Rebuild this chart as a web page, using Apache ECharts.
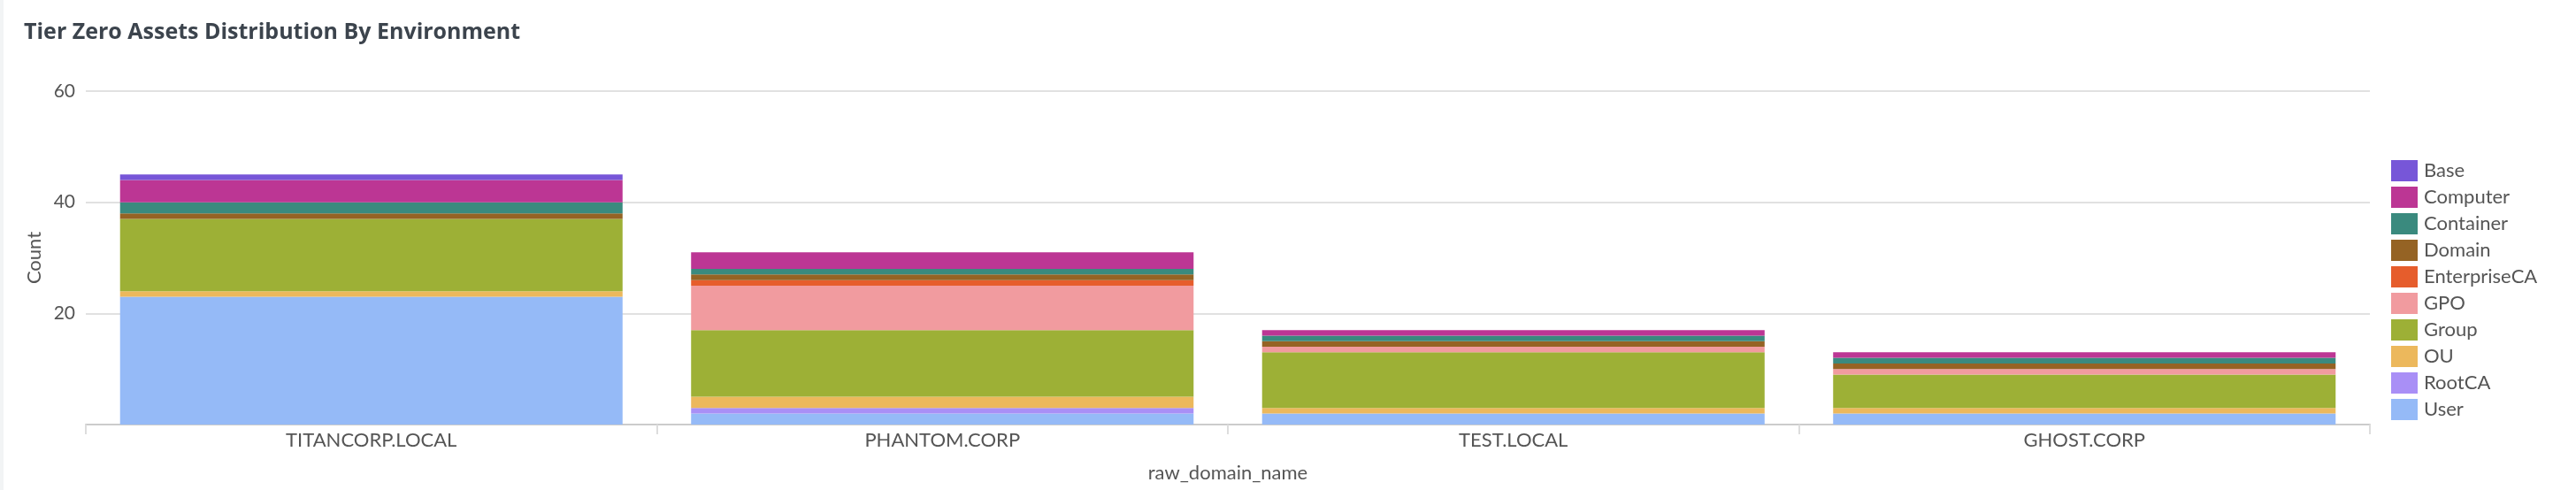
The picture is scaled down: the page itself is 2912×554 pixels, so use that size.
<!DOCTYPE html>
<html lang="en">
<head>
    <meta charset="UTF-8">
    <title>Tier Zero Assets Distribution By Environment</title>
    <script src="https://cdn.jsdelivr.net/npm/echarts@6/dist/echarts.min.js"></script>
    <style>
        html, body {
            margin: 0;
            padding: 0;
            background: #ffffff;
        }
        #chart {
            width: 2912px;
            height: 554px;
            box-sizing: border-box;
            border-left: 4px solid #f2f4f5;
        }
    </style>
</head>
<body>
    <div id="chart"></div>
    <script>
        // domains on the x axis
        const domains = ['TITANCORP.LOCAL', 'PHANTOM.CORP', 'TEST.LOCAL', 'GHOST.CORP'];

        // counts per object type, one value per domain
        const base = [1, 0, 0, 0];
        const computer = [4, 3, 1, 1];
        const container = [2, 1, 1, 1];
        const domain = [1, 1, 1, 1];
        const enterpriseCA = [0, 1, 0, 0];
        const gpo = [0, 8, 1, 1];
        const group = [13, 12, 10, 6];
        const ou = [1, 2, 1, 1];
        const rootCA = [0, 1, 0, 0];
        const user = [23, 2, 2, 2];

        const yTicks = [0, 20, 40, 60];

        // stacked bottom -> top
        const types = [
            { name: 'User', data: user, color: '#95baf7' },
            { name: 'RootCA', data: rootCA, color: '#a98ff6' },
            { name: 'OU', data: ou, color: '#ecb85c' },
            { name: 'Group', data: group, color: '#9db036' },
            { name: 'GPO', data: gpo, color: '#f19b9f' },
            { name: 'EnterpriseCA', data: enterpriseCA, color: '#e65d2c' },
            { name: 'Domain', data: domain, color: '#956324' },
            { name: 'Container', data: container, color: '#3a8a7e' },
            { name: 'Computer', data: computer, color: '#bc3694' },
            { name: 'Base', data: base, color: '#7756d8' }
        ];

        const font = 'Lato, "Open Sans", sans-serif';

        const chart = echarts.init(document.getElementById('chart'));
        chart.setOption({
            animation: false,
            textStyle: { fontFamily: font },
            title: {
                text: 'Tier Zero Assets Distribution By Environment',
                left: 18,
                top: 19,
                textStyle: {
                    fontFamily: '"Open Sans", sans-serif',
                    fontSize: 25,
                    fontWeight: 'bold',
                    color: '#3c444d'
                }
            },
            legend: {
                orient: 'vertical',
                left: 2694,
                top: 176,
                itemWidth: 30,
                itemHeight: 24,
                itemGap: 6,
                icon: 'rect',
                data: types.map(t => t.name).reverse(),
                textStyle: { fontFamily: font, fontSize: 22, color: '#555', padding: [0, 0, 0, 2] }
            },
            grid: {
                left: 93,
                right: 233,
                top: 103,
                bottom: 74,
                outerBoundsMode: 'none',
                containLabel: false
            },
            xAxis: {
                type: 'category',
                data: domains,
                name: 'raw_domain_name',
                nameLocation: 'middle',
                nameGap: 44,
                nameTextStyle: { fontFamily: font, fontSize: 22, color: '#555' },
                axisLine: { lineStyle: { color: '#cccccc', width: 2 } },
                axisTick: { show: true, length: 11, lineStyle: { color: '#dddddd', width: 2 } },
                axisLabel: { fontFamily: font, fontSize: 22, color: '#555', margin: 7 }
            },
            yAxis: {
                type: 'value',
                min: yTicks[0],
                max: yTicks[yTicks.length - 1],
                interval: 20,
                name: 'Count',
                nameLocation: 'middle',
                nameGap: 46,
                nameTextStyle: { fontFamily: font, fontSize: 22, color: '#555' },
                axisLine: { show: false },
                axisTick: { show: false },
                axisLabel: {
                    fontFamily: font,
                    fontSize: 21,
                    color: '#555',
                    margin: 12,
                    formatter: v => (v === 0 ? '' : String(v))
                },
                splitLine: { lineStyle: { color: '#e1e1e1', width: 2 } }
            },
            series: types.map(t => ({
                name: t.name,
                type: 'bar',
                stack: 'total',
                data: t.data,
                barCategoryGap: '12%',
                itemStyle: { color: t.color }
            }))
        });
    </script>
</body>
</html>
